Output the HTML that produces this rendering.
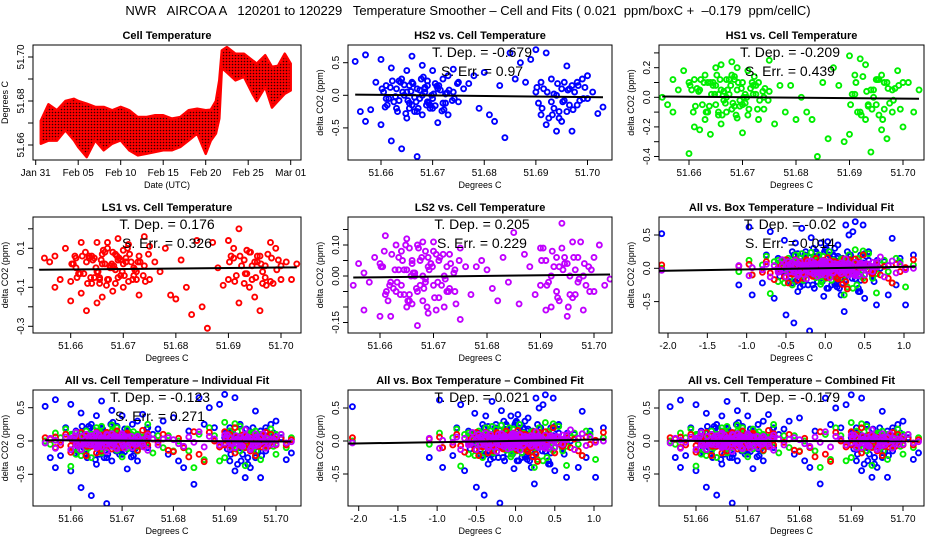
<!DOCTYPE html>
<html><head><meta charset="utf-8"><style>
html,body{margin:0;padding:0;background:#fff;}
svg{display:block;font-family:"Liberation Sans",sans-serif;}
</style></head><body>
<svg id="chart" width="936" height="540" viewBox="0 0 936 540" xmlns="http://www.w3.org/2000/svg">
<defs>
<pattern id="redpat" width="3" height="3" patternUnits="userSpaceOnUse"><rect width="3" height="3" fill="#ff0000"/><circle cx="1.5" cy="1.5" r="0.8" fill="#300"/></pattern>
</defs>
<text x="468" y="15" text-anchor="middle" font-size="13" xml:space="preserve">NWR   AIRCOA A   120201 to 120229   Temperature Smoother – Cell and Fits ( 0.021  ppm/boxC +  –0.179  ppm/cellC)</text>
<g id="plots"></g>
</svg>
<script>
// ---- data ----
const days=[0.6,1.5,2.5,3.5,4.5,5,6,7,8,9,10,11,12,13,14,15,16,17,18,19,20,20.6,21.2,21.6,21.9,22.5,23.5,24.5,25.5,26,27,27.8,28.5,29.3,30];
const tempHi=[51.671,51.6785,51.6758,51.680,51.681,51.680,51.6788,51.6773,51.6773,51.6758,51.6773,51.6758,51.6727,51.6727,51.6735,51.6735,51.672,51.6727,51.6758,51.6765,51.6758,51.676,51.680,51.6894,51.703,51.7045,51.7015,51.7015,51.6985,51.697,51.7008,51.6955,51.696,51.7015,51.697];
const tempLo=[51.6606,51.662,51.662,51.6667,51.6621,51.6591,51.6545,51.6621,51.6576,51.6606,51.6621,51.6576,51.6553,51.656,51.6568,51.6576,51.6576,51.6591,51.6621,51.6652,51.656,51.662,51.6652,51.672,51.695,51.693,51.6894,51.691,51.6833,51.680,51.6864,51.677,51.680,51.6833,51.6848];
const dateLabels=["Jan 31","Feb 05","Feb 10","Feb 15","Feb 20","Feb 25","Mar 01"];
const dateTicks=[0,5,10,15,20,25,30];

const cellT=[51.655,51.656,51.657,51.657,51.658,51.659,51.660,51.660,51.661,51.661,
51.662,51.662,51.663,51.663,51.664,51.664,51.665,51.665,51.665,51.666,
51.666,51.666,51.667,51.667,51.667,51.668,51.668,51.668,51.669,51.669,
51.669,51.670,51.670,51.670,51.671,51.671,51.672,51.672,51.673,51.673,
51.674,51.674,51.675,51.675,51.676,51.677,51.678,51.679,51.680,51.681,
51.682,51.683,51.684,51.685,51.686,51.687,51.688,51.689,51.690,51.690,
51.691,51.691,51.692,51.692,51.693,51.693,51.694,51.694,51.695,51.695,
51.696,51.696,51.697,51.697,51.698,51.698,51.699,51.700,51.700,51.701,
51.702,51.703,51.6605,51.6625,51.6645,51.6655,51.6675,51.6685,51.6695,51.6715,
51.6635,51.6655,51.6665,51.6685,51.6705,51.6725,51.6935,51.6955,51.6965,51.6945,
51.6602,51.6612,51.6622,51.6632,51.6642,51.6652,51.6662,51.6672,51.6682,51.6692,
51.6702,51.6712,51.6722,51.6732,51.6742,51.6608,51.6618,51.6628,51.6638,51.6648,
51.6658,51.6668,51.6678,51.6688,51.6698,51.6708,51.6718,51.6728,51.6738,51.6748,
51.6615,51.6635,51.6655,51.6675,51.6695,51.6645,51.6665,51.6685,51.6705,51.6725,
51.6902,51.6912,51.6922,51.6932,51.6942,51.6952,51.6962,51.6972,51.6982,51.6992,
51.6905,51.6915,51.6925,51.6935,51.6945,51.6955,51.6965,51.6975,51.6985,51.6995];
const boxT=[-2.08,-1.10,-0.97,-0.93,-0.80,-0.75,-0.70,-0.65,-0.60,-0.55,
-0.52,-0.50,-0.47,-0.45,-0.42,-0.40,-0.38,-0.35,-0.33,-0.30,
-0.28,-0.26,-0.24,-0.22,-0.20,-0.18,-0.16,-0.14,-0.12,-0.10,
-0.08,-0.06,-0.05,-0.04,-0.03,-0.02,-0.01,0.00,0.01,0.02,
0.03,0.04,0.05,0.06,0.08,0.10,0.12,0.14,0.16,0.18,
0.20,0.22,0.24,0.26,0.28,0.30,0.32,0.35,0.38,0.40,
0.42,0.45,0.48,0.50,0.55,0.60,0.65,0.70,0.75,0.80,
0.85,0.90,0.95,1.02,1.12,-0.35,-0.25,-0.15,-0.05,0.05,
0.15,0.25,0.35,-0.30,-0.20,-0.10,0.00,0.10,0.20,0.30,
-0.45,-0.15,0.08,0.33,0.52,-0.58,0.62,-0.12,0.18,0.44,
-0.55,-0.45,-0.35,-0.28,-0.22,-0.15,-0.10,-0.05,0.00,0.05,
0.10,0.15,0.22,0.28,0.35,0.45,0.55,-0.50,-0.40,-0.32,
-0.25,-0.18,-0.12,-0.06,0.02,0.08,0.12,0.18,0.25,0.32,
0.40,0.50,0.60,-0.60,-0.38,-0.20,0.00,0.20,0.38,0.58,
-0.48,-0.30,-0.14,0.04,0.16,0.30,0.48,-0.42,-0.26,-0.08,
0.06,0.24,0.42,-0.34,-0.16,0.10,0.34,-0.02,0.26,0.66];
const hs2=[0.52,-0.25,0.62,-0.40,-0.22,0.20,0.55,-0.45,0.15,-0.05,
0.42,-0.70,0.10,-0.20,0.25,-0.82,0.38,-0.35,0.05,0.60,
-0.15,0.20,0.10,-0.25,-0.94,0.46,0.00,-0.30,0.22,-0.10,
0.15,0.38,-0.05,-0.20,0.10,-0.42,0.25,-0.12,0.30,-0.30,
0.40,0.05,0.20,-0.10,0.10,0.18,0.30,-0.20,0.35,-0.30,
-0.40,0.15,-0.65,0.65,0.25,0.50,0.20,0.55,0.70,0.05,
-0.30,0.20,0.65,-0.45,0.25,-0.10,-0.55,0.00,0.10,-0.40,
0.45,-0.25,0.15,-0.55,0.20,-0.15,0.25,0.30,-0.05,0.05,
-0.28,-0.18,0.05,-0.10,0.00,-0.20,-0.05,0.12,-0.15,0.08,
-0.08,0.15,-0.25,0.05,0.18,-0.12,-0.20,-0.08,0.10,-0.35,
0.10,-0.15,0.22,-0.25,0.05,-0.08,0.18,-0.20,0.28,-0.12,
0.02,0.15,-0.22,0.08,-0.05,-0.18,0.12,-0.02,0.20,-0.28,
0.06,-0.10,0.25,-0.15,0.00,0.14,-0.24,0.04,-0.08,0.18,
-0.05,0.22,-0.12,0.08,-0.20,0.16,-0.03,0.10,-0.16,0.02,
0.12,-0.20,0.05,-0.30,0.18,-0.10,0.08,-0.22,0.15,-0.05,
-0.12,0.10,-0.35,0.02,-0.25,0.20,-0.15,0.05,-0.08,0.12];
const hs1=[0.00,-0.05,0.12,-0.10,0.05,0.18,-0.38,0.10,-0.20,0.12,
-0.22,0.05,0.15,-0.15,-0.25,0.10,0.20,-0.05,0.08,0.22,
-0.18,0.05,0.12,-0.10,0.00,0.24,-0.08,0.15,-0.14,0.05,
0.20,-0.24,0.10,-0.05,0.18,-0.12,0.08,0.02,-0.15,0.10,
0.00,-0.08,0.25,0.04,-0.18,0.08,-0.10,0.08,-0.15,0.00,
-0.10,-0.15,-0.40,0.10,-0.28,0.20,0.08,-0.30,0.28,-0.25,
0.15,0.02,0.26,-0.10,0.22,-0.15,-0.37,0.05,0.12,-0.05,
-0.22,0.15,0.10,-0.28,0.05,-0.10,0.18,0.10,-0.20,0.10,
-0.10,0.05,0.05,-0.05,0.10,-0.12,0.02,0.12,-0.02,0.06,
0.10,-0.10,0.04,-0.06,0.02,0.08,-0.05,0.12,-0.08,0.00,
0.08,-0.06,0.12,-0.10,0.02,0.15,-0.12,0.05,-0.04,0.10,
0.00,-0.08,0.14,-0.02,0.06,-0.10,0.04,0.10,-0.06,0.02,
0.12,-0.04,0.08,-0.12,0.06,0.00,0.10,-0.08,0.04,-0.02,
0.06,-0.10,0.02,0.12,-0.06,0.08,-0.02,0.14,-0.04,0.02,
-0.05,0.10,-0.12,0.04,-0.08,0.12,-0.15,0.06,-0.02,0.08,
0.02,-0.10,0.14,-0.06,0.05,-0.12,0.10,-0.04,0.06,-0.08];
const ls1=[0.05,0.03,0.06,-0.10,-0.06,0.10,-0.07,-0.17,0.00,0.05,
-0.13,0.13,-0.22,0.03,-0.08,0.06,0.13,-0.18,-0.02,0.07,
-0.15,0.02,0.13,-0.06,0.10,0.08,-0.12,0.00,0.15,-0.05,
0.04,-0.10,0.09,0.02,-0.07,0.12,0.00,-0.04,0.06,-0.14,
0.16,0.01,-0.06,0.11,0.03,-0.02,0.10,-0.14,-0.16,0.04,
-0.10,-0.24,0.14,-0.20,-0.31,0.13,0.00,-0.09,0.14,-0.06,
0.10,0.05,0.20,-0.18,0.04,-0.08,0.08,-0.10,0.03,-0.15,
-0.22,0.06,-0.05,0.01,0.13,-0.07,0.10,-0.06,0.01,0.03,
-0.06,0.02,0.02,-0.03,0.05,-0.06,0.00,0.07,-0.04,0.03,
0.06,-0.05,0.02,-0.08,0.05,-0.02,-0.03,0.06,-0.08,0.01,
0.02,-0.05,0.06,-0.08,0.04,-0.02,0.09,-0.06,0.01,0.05,
-0.04,0.07,-0.01,0.03,-0.07,0.06,-0.03,0.08,-0.05,0.00,
0.04,-0.09,0.02,0.06,-0.02,0.10,-0.06,0.03,-0.04,0.07,
-0.03,0.05,-0.08,0.01,0.04,-0.05,0.08,-0.01,0.03,-0.06,
0.03,-0.07,0.06,-0.03,0.08,-0.05,0.02,-0.09,0.05,-0.01,
0.06,-0.04,0.01,0.09,-0.06,0.03,-0.02,0.07,-0.08,0.04];
const ls2=[-0.03,0.04,-0.11,0.01,-0.02,0.06,-0.13,0.04,-0.06,0.13,
-0.02,-0.13,0.10,-0.05,0.08,-0.03,0.12,-0.10,0.02,0.05,
-0.09,0.04,-0.16,0.10,-0.05,0.11,0.00,-0.08,0.06,-0.12,
0.03,0.08,-0.03,0.11,-0.07,0.05,0.00,-0.10,0.07,-0.04,
0.02,-0.05,0.09,-0.14,0.03,-0.06,0.03,0.05,0.02,-0.04,
-0.08,0.06,-0.02,0.14,-0.09,0.07,0.03,-0.06,0.09,-0.03,
-0.11,0.05,0.00,-0.10,0.06,-0.05,0.09,0.17,-0.13,0.04,
0.11,-0.07,0.06,-0.02,0.00,-0.11,0.03,0.06,-0.05,0.10,
-0.03,-0.01,0.03,-0.04,0.02,-0.06,0.05,-0.01,0.04,-0.03,
0.06,-0.08,0.01,-0.02,0.07,-0.05,0.03,-0.06,0.02,0.04,
0.03,-0.05,0.07,-0.02,0.05,-0.08,0.01,0.09,-0.04,0.02,
-0.07,0.06,-0.01,0.04,-0.09,0.08,-0.03,0.02,-0.06,0.10,
0.00,-0.04,0.06,-0.10,0.03,-0.02,0.07,-0.05,0.01,0.05,
-0.08,0.02,0.09,-0.03,0.04,-0.06,0.00,0.08,-0.11,0.03,
0.05,-0.03,0.08,-0.07,0.02,-0.10,0.06,-0.01,0.04,-0.05,
0.09,-0.02,0.03,-0.08,0.06,0.00,-0.06,0.11,-0.03,0.02];
const cellTickVals=[51.66,51.67,51.68,51.69,51.70];
const cellTickLabels=["51.66","51.67","51.68","51.69","51.70"];
const boxTickVals=[-2,-1.5,-1,-0.5,0,0.5,1];
const boxTickLabels=["-2.0","-1.5","-1.0","-0.5","0.0","0.5","1.0"];
const wideYVals=[-0.5,0,0.5];const wideYLabels=["-0.5","0.0","0.5"];
const hs1YVals=[-0.4,-0.3,-0.2,-0.1,0,0.1,0.2,0.3];const hs1YLabels=["-0.4","","-0.2","","0.0","","0.2",""];
const ls1YVals=[-0.3,-0.2,-0.1,0,0.1,0.2];const ls1YLabels=["-0.3","","-0.1","","0.1",""];
const ls2YVals=[-0.15,-0.10,-0.05,0,0.05,0.10,0.15];const ls2YLabels=["-0.15","","","0.00","","0.10",""];
const tempYVals=[51.66,51.67,51.68,51.69,51.70];const tempYLabels=["51.66","","51.68","","51.70"];
// fit line endpoints [x1,y1,x2,y2] in data units
const fitHS2=[51.655,0.01,51.703,-0.03];
const fitHS1=[51.655,0.005,51.703,-0.01];
const fitLS1=[51.654,-0.01,51.703,0.002];
const fitLS2=[51.655,-0.005,51.703,0.005];
const fitBox=[-2.15,-0.04,1.15,0.025];
const fitAllCell=[51.655,0.012,51.703,-0.008];
const fitCombCell=[51.655,0.002,51.703,-0.002];

const NS="http://www.w3.org/2000/svg";
const root=document.getElementById('plots');
function mk(tag,attrs,parent){const e=document.createElementNS(NS,tag);for(const k in attrs)e.setAttribute(k,attrs[k]);(parent||root).appendChild(e);return e;}
function lin(v1,p1,v2,p2){return v=>p1+(v-v1)*(p2-p1)/(v2-v1);}
function txt(x,y,s,size,parent,extra){const t=mk('text',Object.assign({x:x,y:y,'font-size':size,'text-anchor':'middle'},extra||{}),parent);t.textContent=s;return t;}

function panel(cfg){
  const g=mk('g',{});
  
  
  const b=cfg.box;
  const X=lin(...cfg.xs),Y=lin(...cfg.ys);
  const t=txt((b.l+b.r)/2,b.t-6,cfg.title,11,g,{'font-weight':'bold'});
  
  
  const clip='c'+cfg.id;
  const cp=mk('clipPath',{id:clip},g);mk('rect',{x:b.l,y:b.t,width:b.r-b.l,height:b.b-b.t},cp);
  const marks=mk('g',{'clip-path':'url(#'+clip+')'},g);
  
  
  cfg.draw(marks,X,Y);
  const frame=mk('rect',{x:b.l,y:b.t,width:b.r-b.l,height:b.b-b.t,fill:'none',stroke:'#000','stroke-width':1},g);
  
  
  const xa=mk('g',{},g);
  
  
  cfg.xt.forEach((v,i)=>{const px=X(v);mk('line',{x1:px,x2:px,y1:b.b,y2:b.b+5,stroke:'#000'},xa);txt(px,b.b+16,cfg.xl[i],10,xa);});
  mk('line',{x1:X(cfg.xt[0]),x2:X(cfg.xt[cfg.xt.length-1]),y1:b.b,y2:b.b,stroke:'#000'},xa);
  const xtitle=txt((b.l+b.r)/2,b.b+28,cfg.xtitle,9,g);
  
  
  const ya=mk('g',{},g);
  
  
  cfg.yt.forEach((v,i)=>{const py=Y(v);mk('line',{x1:b.l-5,x2:b.l,y1:py,y2:py,stroke:'#000'},ya);if(cfg.yl[i]){const tx=txt(b.l-9,py,cfg.yl[i],10,ya);tx.setAttribute('transform','rotate(-90 '+(b.l-9)+' '+py+')');}});
  const yttl=txt(b.l-25,(b.t+b.b)/2,cfg.ytitle,9,g);
  yttl.setAttribute('transform','rotate(-90 '+(b.l-25)+' '+((b.t+b.b)/2)+')');
  
  
  (cfg.stats||[]).forEach((s,i)=>{const st=txt(cfg.statX,b.t+12+i*19,s,14,g,{'xml:space':'preserve'});});
}
function pts(g,xv,yv,X,Y,color){
  xv.forEach((x,i)=>{const c=mk('circle',{cx:X(x),cy:Y(yv[i]),r:2.5,fill:'none',stroke:color,'stroke-width':1.9},g);
  
  });
}
function fit(g,f,X,Y){const l=mk('line',{x1:X(f[0]),y1:Y(f[1]),x2:X(f[2]),y2:Y(f[3]),stroke:'#000','stroke-width':2},g);
  
  }
function allPts(g,xv,X,Y){pts(g,xv,hs2,X,Y,'#0000ff');pts(g,xv,hs1,X,Y,'#00ee00');pts(g,xv,ls1,X,Y,'#ff0000');pts(g,xv,ls2,X,Y,'#c000ff');}

const R1={t:45,b:160},R2={t:217,b:333},R3={t:390,b:506};
const C1={l:33,r:301},C2={l:348,r:612},C3={l:659,r:924};
const box=(c,r)=>({l:c.l,r:c.r,t:r.t,b:r.b});
const YT='delta CO2 (ppm)',XT='Degrees C';

panel({id:1,name:'cell-temperature-panel',title:'Cell Temperature',box:box(C1,R1),xs:[0,35.7,30,290.7],ys:[51.66,145,51.70,57],
 xt:dateTicks,xl:dateLabels,yt:tempYVals,yl:tempYLabels,xtitle:'Date (UTC)',ytitle:'Degrees C',
 draw:(g,X,Y)=>{let d='';days.forEach((t,i)=>{d+=(i?'L':'M')+X(t)+' '+Y(tempHi[i]);});for(let i=days.length-1;i>=0;i--)d+='L'+X(days[i])+' '+Y(tempLo[i]);d+='Z';
  const band=mk('path',{d:d,fill:'url(#redpat)',stroke:'#ff0000','stroke-width':2.5,'stroke-linejoin':'round'},g);
  
  }});
panel({id:2,name:'hs2-panel',title:'HS2 vs. Cell Temperature',box:box(C2,R1),xs:[51.66,381,51.70,587.5],ys:[0,95.3,0.5,62.7],
 xt:cellTickVals,xl:cellTickLabels,yt:wideYVals,yl:wideYLabels,xtitle:XT,ytitle:YT,statX:482,stats:['T. Dep. =  -0.679','S. Err. =  0.97'],
 draw:(g,X,Y)=>{pts(g,cellT,hs2,X,Y,'#0000ff');fit(g,fitHS2,X,Y);}});
panel({id:3,name:'hs1-panel',title:'HS1 vs. Cell Temperature',box:box(C3,R1),xs:[51.66,689,51.70,903],ys:[0,97.3,0.2,67.7],
 xt:cellTickVals,xl:cellTickLabels,yt:hs1YVals,yl:hs1YLabels,xtitle:XT,ytitle:YT,statX:790,stats:['T. Dep. =  -0.209','S. Err. =  0.439'],
 draw:(g,X,Y)=>{pts(g,cellT,hs1,X,Y,'#00ee00');fit(g,fitHS1,X,Y);}});
panel({id:4,name:'ls1-panel',title:'LS1 vs. Cell Temperature',box:box(C1,R2),xs:[51.66,70.7,51.70,281],ys:[0,267.8,0.1,248.3],
 xt:cellTickVals,xl:cellTickLabels,yt:ls1YVals,yl:ls1YLabels,xtitle:XT,ytitle:YT,statX:167,stats:['T. Dep. =  0.176','S. Err. =  0.326'],
 draw:(g,X,Y)=>{pts(g,cellT,ls1,X,Y,'#ff0000');fit(g,fitLS1,X,Y);}});
panel({id:5,name:'ls2-panel',title:'LS2 vs. Cell Temperature',box:box(C2,R2),xs:[51.66,380,51.70,594],ys:[0,276,0.1,245],
 xt:cellTickVals,xl:cellTickLabels,yt:ls2YVals,yl:ls2YLabels,xtitle:XT,ytitle:YT,statX:482,stats:['T. Dep. =  0.205','S. Err. =  0.229'],
 draw:(g,X,Y)=>{pts(g,cellT,ls2,X,Y,'#c000ff');fit(g,fitLS2,X,Y);}});
panel({id:6,name:'all-box-individual-panel',title:'All vs. Box Temperature – Individual Fit',box:box(C3,R2),xs:[-2,668,1,904],ys:[0,268.3,0.5,235],
 xt:boxTickVals,xl:boxTickLabels,yt:wideYVals,yl:wideYLabels,xtitle:XT,ytitle:YT,statX:790,stats:['T. Dep. =  -0.02','S. Err. =  0.014'],
 draw:(g,X,Y)=>{allPts(g,boxT,X,Y);fit(g,fitBox,X,Y);}});
panel({id:7,name:'all-cell-individual-panel',title:'All vs. Cell Temperature – Individual Fit',box:box(C1,R3),xs:[51.66,70.8,51.70,276],ys:[0,441,0.5,407.7],
 xt:cellTickVals,xl:cellTickLabels,yt:wideYVals,yl:wideYLabels,xtitle:XT,ytitle:YT,statX:160,stats:['T. Dep. =  -0.123','S. Err. =  0.271'],
 draw:(g,X,Y)=>{allPts(g,cellT,X,Y);fit(g,fitAllCell,X,Y);}});
panel({id:8,name:'all-box-combined-panel',title:'All vs. Box Temperature – Combined Fit',box:box(C2,R3),xs:[-2,358.7,1,594],ys:[0,441,0.5,408],
 xt:boxTickVals,xl:boxTickLabels,yt:wideYVals,yl:wideYLabels,xtitle:XT,ytitle:YT,statX:482,stats:['T. Dep. =  0.021'],
 draw:(g,X,Y)=>{allPts(g,boxT,X,Y);fit(g,fitBox,X,Y);}});
panel({id:9,name:'all-cell-combined-panel',title:'All vs. Cell Temperature – Combined Fit',box:box(C3,R3),xs:[51.66,696,51.70,903],ys:[0,441,0.5,408],
 xt:cellTickVals,xl:cellTickLabels,yt:wideYVals,yl:wideYLabels,xtitle:XT,ytitle:YT,statX:790,stats:['T. Dep. =  -0.179'],
 draw:(g,X,Y)=>{allPts(g,cellT,X,Y);fit(g,fitCombCell,X,Y);}});
</script>
</body></html>
